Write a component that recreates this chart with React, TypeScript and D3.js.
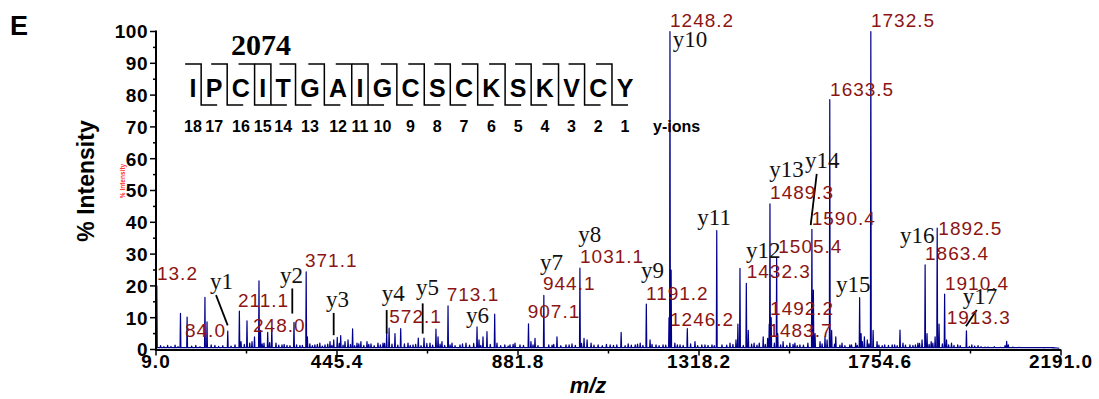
import * as d3 from 'd3'

// peptide and y-ion numbering
const residues = ['I', 'P', 'C', 'I', 'T', 'G', 'A', 'I', 'G', 'C', 'S', 'C', 'K', 'S', 'K', 'V', 'C', 'Y']
const yIonNumbers = [18, 17, 16, 15, 14, 13, 12, 11, 10, 9, 8, 7, 6, 5, 4, 3, 2, 1]
const precursor = '2074'

const xTicks = [9.0, 445.4, 881.8, 1318.2, 1754.6, 2191.0]
const yTicks = [0, 10, 20, 30, 40, 50, 60, 70, 80, 90, 100]

// [m/z, % intensity] — main peaks
const peaks: [number, number][] = [
  [11, 20], [37, 1.3], [68, 11.4], [84.0, 10.2], [127, 16.4], [132, 8.7], [151, 1.3],
  [182, 5.8], [199.5, 1.5], [210, 12.1], [214, 2.5], [228.4, 9], [240.5, 2.5], [246.5, 4],
  [257.3, 21.6], [261, 6], [269.4, 2], [278.3, 5.4], [288.2, 7], [298.3, 2], [312.8, 1.5],
  [324.8, 1.3], [341.7, 8.5], [356, 1.3], [371.1, 24.4], [374, 4], [392, 1.5], [404, 2],
  [416.5, 1.5], [428.5, 2.5], [437.5, 3], [446, 3.8], [454.3, 4.4], [464.7, 2.5], [472, 3],
  [483, 6.5], [493.6, 2], [503, 2.5], [517.7, 2.5], [527.4, 1.8], [544.2, 2], [556.3, 2],
  [565.2, 5.3], [571, 6.7], [585.2, 5], [599, 6.6], [616.6, 2], [628.7, 1.5], [641.4, 3.6],
  [655.2, 3.6], [669.6, 2], [684, 6.4], [689, 4], [698.5, 2.5], [713.1, 13.7], [722.7, 2],
  [742, 1.5], [756.4, 2], [783, 7.1], [787.8, 3], [797.4, 4], [807, 5.6], [825.6, 11.1],
  [831.1, 2], [862.5, 1.5], [874.6, 2], [886.6, 1.5], [907.1, 8.1], [913, 2.5], [922.8, 3.5],
  [944.1, 17], [956, 1.5], [975.8, 4], [997.5, 1.5], [1012, 1.8], [1031.1, 25.6], [1041, 3.5],
  [1048.4, 3], [1058, 2], [1075, 1.5], [1104, 1.5], [1130.5, 5.4], [1147.5, 1.8], [1164.4, 1.5],
  [1176.4, 2], [1191.2, 14.3], [1200.2, 3], [1214.6, 1.5], [1231.5, 1.5], [1245.9, 10],
  [1248.2, 100], [1251, 25], [1260, 2], [1272.5, 1.5], [1290, 6.6], [1308.5, 2.5], [1332.6, 1.5],
  [1349.5, 1.5], [1361, 37.4], [1373.6, 1.5], [1393, 2], [1407.4, 3], [1412, 8], [1417, 25.5],
  [1432.3, 20.8], [1437, 6], [1451, 2], [1463.5, 2], [1473, 4], [1483.7, 3.5], [1487.5, 8],
  [1489.3, 45.8], [1492.2, 10], [1505.4, 28.7], [1508, 5], [1521, 2.5], [1537.3, 2], [1549.4, 2],
  [1561.5, 1.5], [1580.7, 2], [1590.4, 37.8], [1594, 18.7], [1598, 5], [1610, 2.5], [1622, 4],
  [1627, 3], [1633.5, 78.6], [1638, 6], [1648, 4], [1663, 2], [1681.8, 1.5], [1696, 2],
  [1705.5, 16.3], [1709, 5], [1717, 4], [1724, 3], [1732.5, 100], [1738, 6], [1747.5, 2.5],
  [1766, 1.5], [1790, 1.5], [1802.8, 6.1], [1810, 2], [1826.8, 1.5], [1846, 2], [1856, 3],
  [1863.4, 26.6], [1868, 5], [1878, 2.5], [1887.5, 4], [1892.5, 38.2], [1897, 8], [1910.4, 17.4],
  [1915, 3], [1927, 2], [1942, 1.5], [1963, 5.9], [1976, 1.5], [1991, 1.2], [2008, 0.8],
  [2056, 1.2], [2060, 2.6], [2064, 1.5],
]

// small baseline bumps
const noisePeaks: [number, number][] = [
  [20, 1.2], [28, 0.9], [45, 1.0], [55, 1.4], [62, 0.9], [95, 1.1], [105, 1.3], [115, 0.9],
  [142, 1.5], [160, 1.0], [170, 1.2], [190, 1.1], [222, 1.6], [235, 2.0], [265, 1.8], [283, 2.2],
  [305, 1.4], [318, 1.6], [332, 1.2], [348, 1.5], [362, 1.3], [380, 1.8], [386, 1.2], [398, 1.6],
  [410, 1.1], [423, 1.7], [433, 1.3], [451, 1.9], [460, 1.4], [478, 1.6], [488, 1.2], [498, 1.8],
  [510, 1.3], [522, 1.6], [535, 1.2], [550, 1.5], [560, 1.9], [578, 1.7], [592, 1.4], [608, 1.8],
  [622, 1.3], [635, 1.6], [648, 1.2], [662, 1.9], [676, 1.4], [694, 1.7], [705, 1.3], [718, 1.5],
  [730, 1.2], [748, 1.8], [765, 1.4], [775, 1.9], [792, 1.3], [815, 1.6], [840, 1.2], [850, 1.5],
  [858, 1.1], [870, 1.6], [895, 1.3], [918, 1.5], [930, 1.2], [964, 1.4], [968, 1.6], [985, 1.2],
  [1005, 1.5], [1020, 1.3], [1035, 1.9], [1065, 1.4], [1085, 1.2], [1095, 1.6], [1112, 1.3],
  [1120, 1.5], [1140, 1.2], [1155, 1.4], [1170, 1.7], [1183, 1.3], [1205, 1.6], [1222, 1.2],
  [1238, 1.4], [1266, 1.5], [1280, 1.3], [1298, 1.8], [1315, 1.2], [1325, 1.5], [1340, 1.3],
  [1355, 1.2], [1385, 1.4], [1400, 1.6], [1425, 1.3], [1445, 1.7], [1458, 1.4], [1478, 1.6],
  [1500, 2.0], [1515, 1.5], [1530, 1.3], [1545, 1.6], [1555, 1.2], [1570, 1.4], [1615, 1.8],
  [1645, 1.7], [1658, 1.4], [1670, 1.2], [1686, 1.5], [1700, 1.3], [1712, 2.5], [1728, 1.8],
  [1752, 1.4], [1760, 1.2], [1775, 1.3], [1784, 1.5], [1796, 1.2], [1816, 1.4], [1834, 1.3],
  [1840, 1.5], [1850, 1.9], [1873, 1.6], [1882, 2.0], [1905, 1.8], [1920, 1.5], [1933, 1.3],
  [1948, 1.2], [1970, 1.0], [1983, 1.1], [1998, 0.9], [2015, 0.8], [2030, 0.9], [2045, 0.7],
  [2075, 0.8], [2090, 0.7], [2110, 0.6], [2130, 0.6], [2150, 0.5], [2170, 0.5],
]

// red m/z annotations: text, anchor m/z, anchor intensity
const massLabels: [string, number, number][] = [
  ['13.2', 11.4, 21.8], ['84.0', 78.9, 4.0], ['211.1', 206.7, 13.4], ['248.0', 242.9, 5.5],
  ['371.1', 368.2, 25.8], ['572.1', 571.5, 8.4], ['713.1', 709.9, 15.3], ['907.1', 905.2, 9.8],
  ['944.1', 942, 18.7], ['1031.1', 1031.3, 27.2], ['1191.2', 1190.4, 15.5], ['1246.2', 1248.3, 7.3],
  ['1248.2', 1248.3, 101.5], ['1732.5', 1732.9, 101.4], ['1633.5', 1634.2, 79.8],
  ['1489.3', 1489.6, 47.2], ['1590.4', 1590, 39.3], ['1505.4', 1509.4, 30.2],
  ['1432.3', 1433.2, 22.5], ['1492.2', 1489.6, 10.8], ['1483.7', 1485.5, 4.0],
  ['1892.5', 1895.2, 36], ['1863.4', 1863.1, 28.1], ['1910.4', 1911.3, 18.7], ['1913.3', 1915.4, 8],
]

// y-ion annotations
const ionLabels: [string, number, number][] = [
  ['y1', 139.2, 19], ['y2', 308, 20.8], ['y3', 418.9, 13.4], ['y4', 553.2, 15.3],
  ['y5', 635.9, 17.1], ['y6', 756.4, 8.2], ['y7', 934.8, 25], ['y8', 1027.2, 33.9],
  ['y9', 1178.3, 22.5], ['y10', 1254.8, 95.2], ['y11', 1314.1, 39.3], ['y12', 1431.5, 28.8],
  ['y13', 1487.7, 54.3], ['y14', 1573.7, 57], ['y15', 1648.5, 18.1], ['y16', 1802.8, 33.4],
  ['y17', 1954, 14.3],
]

// leader ticks [mz1, int1, mz2, int2]
const ionLeaders: [number, number, number, number][] = [
  [153.7, 17.1, 181.9, 7.6],
  [337.6, 19.2, 337.6, 11.3],
  [437.4, 11.5, 437.4, 4.5],
  [565.2, 12.4, 565.2, 5.0],
  [652, 14.5, 652, 5.0],
  [1602, 55.2, 1587.5, 39.1],
  [1987.7, 12.4, 1961.9, 7.3],
]

// Arial bold advance widths (em) for the sequence letters
const charW: Record<string, number> = {
  I: 0.278, P: 0.667, C: 0.722, T: 0.611, G: 0.778, A: 0.722, S: 0.667, K: 0.722, V: 0.667, Y: 0.667,
}

const sans = "Arial, 'Liberation Sans', Helvetica, sans-serif"
const serif = "'Times New Roman', 'Liberation Serif', Times, serif"
const blue = '#00008b'
const red = '#8c1414'

export default function App() {
  const width = 1099
  const height = 399

  const x = d3.scaleLinear().domain([9, 2191]).range([156, 1061])
  const y = d3.scaleLinear().domain([0, 100]).range([349.5, 31.5])

  const base = 0.6
  const all = [...peaks, ...noisePeaks].sort((a, b) => a[0] - b[0])
  const pts: [number, number][] = [[9, base]]
  all.forEach(([mz, h]) => {
    pts.push([mz - 1.0, base], [mz, h], [mz + 1.0, base])
  })
  pts.push([2187, 0.4])
  const line = d3
    .line<[number, number]>()
    .x((d) => x(d[0]))
    .y((d) => y(d[1]))
  const spectrum = line(pts) || ''

  const minorX = d3.pairs(xTicks).map(([a, b]) => (a + b) / 2)
  const minorY = d3.pairs(yTicks).map(([a, b]) => (a + b) / 2)

  // sequence layout
  const seqFont = 25
  const seqLeft = 193
  const seqRight = 625
  const pairSum = d3.sum(d3.pairs(residues), ([a, b]) => ((charW[a] + charW[b]) / 2) * seqFont)
  const gap = (seqRight - seqLeft - pairSum) / (residues.length - 1)
  const centers: number[] = [seqLeft]
  for (let i = 1; i < residues.length; i++) {
    centers.push(centers[i - 1] + ((charW[residues[i - 1]] + charW[residues[i]]) / 2) * seqFont + gap)
  }
  const separators = d3.range(residues.length - 1).map((i) => {
    const right = centers[i] + (charW[residues[i]] / 2) * seqFont
    const left = centers[i + 1] - (charW[residues[i + 1]] / 2) * seqFont
    return (right + left) / 2
  })
  const bTop = 64
  const bBot = 105
  const hook = 16

  return (
    <svg
      width={width}
      height={height}
      style={{ position: 'absolute', left: 0, top: 0, background: '#fff' }}
    >
      <text x={10} y={35} fontFamily={sans} fontWeight="bold" fontSize={27}>
        E
      </text>

      {/* spectrum trace */}
      <path d={spectrum} fill="none" stroke={blue} strokeWidth={1.2} strokeLinejoin="round" />

      {/* axes */}
      <line x1={156} x2={156} y1={y(100) - 1} y2={y(0) + 1} stroke="#000" strokeWidth={2} />
      <line x1={155} x2={x(2191)} y1={y(0) + 0.5} y2={y(0) + 0.5} stroke="#000" strokeWidth={2} />
      {yTicks.map((t) => (
        <g key={'yt' + t}>
          <line x1={150} x2={156} y1={y(t)} y2={y(t)} stroke="#000" strokeWidth={1.5} />
          <text
            x={148}
            y={y(t)}
            dy="0.36em"
            textAnchor="end"
            fontFamily={sans}
            fontWeight="bold"
            fontSize={19}
            letterSpacing={0.5}
          >
            {t}
          </text>
        </g>
      ))}
      {minorY.map((t) => (
        <line key={'ym' + t} x1={153} x2={157} y1={y(t)} y2={y(t)} stroke="#000" strokeWidth={1.5} />
      ))}
      {xTicks.map((t) => (
        <g key={'xt' + t}>
          <line x1={x(t)} x2={x(t)} y1={y(0)} y2={y(0) + 6} stroke="#000" strokeWidth={1.5} />
          <text
            x={x(t)}
            y={368}
            textAnchor="middle"
            fontFamily={sans}
            fontWeight="bold"
            fontSize={19}
            letterSpacing={1}
          >
            {t.toFixed(1)}
          </text>
        </g>
      ))}
      {minorX.map((t) => (
        <line key={'xm' + t} x1={x(t)} x2={x(t)} y1={y(0)} y2={y(0) + 4} stroke="#000" strokeWidth={1.5} />
      ))}

      <text
        x={588}
        y={393}
        textAnchor="middle"
        fontFamily={sans}
        fontWeight="bold"
        fontStyle="italic"
        fontSize={22}
      >
        m/z
      </text>
      <text
        transform="translate(94,181) rotate(-90)"
        textAnchor="middle"
        fontFamily={sans}
        fontWeight="bold"
        fontSize={23}
      >
        % Intensity
      </text>
      <text
        transform="translate(125,181) rotate(-90)"
        textAnchor="middle"
        fontFamily={sans}
        fontWeight="bold"
        fontSize={6.5}
        fill="#ff3030"
      >
        % Intensity
      </text>

      {/* sequence with fragment brackets */}
      <text x={231} y={55} fontFamily={serif} fontWeight="bold" fontSize={30}>
        {precursor}
      </text>
      {residues.map((r, i) => (
        <text
          key={'r' + i}
          x={centers[i]}
          y={96.5}
          textAnchor="middle"
          fontFamily={sans}
          fontWeight="bold"
          fontSize={seqFont}
        >
          {r}
        </text>
      ))}
      {separators.map((s, i) => (
        <path
          key={'s' + i}
          d={`M${s - hook},${bTop}H${s}V${bBot}H${s + hook}`}
          fill="none"
          stroke="#000"
          strokeWidth={1.5}
        />
      ))}
      {yIonNumbers.map((n, i) => (
        <text
          key={'n' + i}
          x={centers[i]}
          y={131.5}
          textAnchor="middle"
          fontFamily={sans}
          fontWeight="bold"
          fontSize={16}
        >
          {n}
        </text>
      ))}
      <text x={653} y={131.5} fontFamily={sans} fontWeight="bold" fontSize={16}>
        y-ions
      </text>

      {/* annotations */}
      {ionLeaders.map(([m1, i1, m2, i2], k) => (
        <line key={'l' + k} x1={x(m1)} y1={y(i1)} x2={x(m2)} y2={y(i2)} stroke="#000" strokeWidth={1.8} />
      ))}
      {massLabels.map(([t, mz, v]) => (
        <text
          key={'m' + t}
          x={x(mz)}
          y={y(v)}
          fontFamily={sans}
          fontSize={19}
          letterSpacing={1}
          fill={red}
        >
          {t}
        </text>
      ))}
      {ionLabels.map(([t, mz, v]) => (
        <text key={'i' + t} x={x(mz)} y={y(v)} fontFamily={serif} fontSize={23} fill="#111">
          {t}
        </text>
      ))}
    </svg>
  )
}
